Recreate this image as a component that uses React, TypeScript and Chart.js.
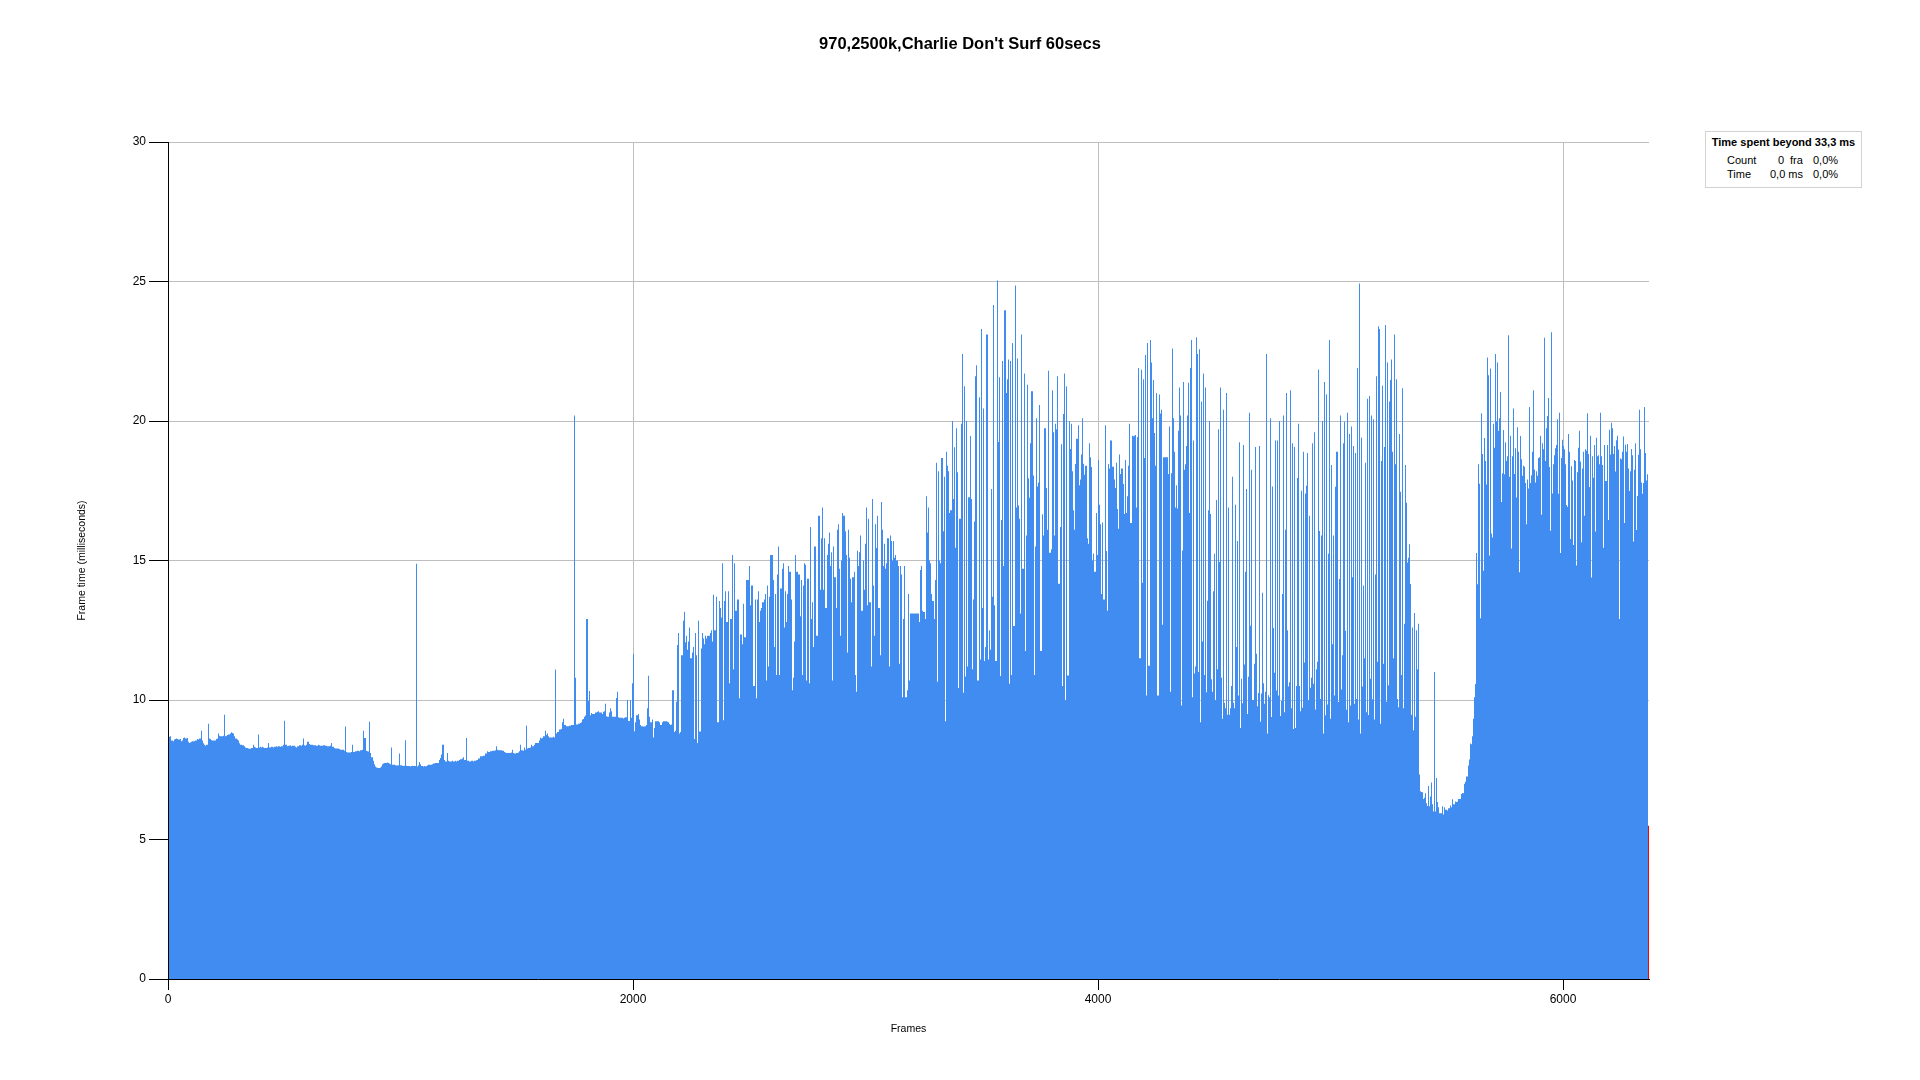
import React, { useEffect, useRef } from "react";
import { Chart, registerables, LinearScale } from "chart.js";

Chart.register(...registerables);

// Linear scale that places values on whole device pixels, so one-frame columns stay crisp
class SnapLinearScale extends LinearScale {
  getPixelForValue(value: any, index?: number) {
    const p = (LinearScale.prototype as any).getPixelForValue.call(this, value, index);
    return Math.round(p);
  }
}
(SnapLinearScale as any).id = "snapLinear";
(SnapLinearScale as any).defaults = (LinearScale as any).defaults;
Chart.registry.addScales(SnapLinearScale as any);

const FONT = "'Liberation Sans', Arial, Helvetica, sans-serif";

const CHART_TITLE = "970,2500k,Charlie Don't Surf 60secs";
const X_TITLE = "Frames";
const Y_TITLE = "Frame time (milliseconds)";
const X_TICKS = [0, 2000, 4000, 6000];
const Y_TICKS = [0, 5, 10, 15, 20, 25, 30];
const X_MAX = 6370;
const Y_MAX = 30;

const LEGEND_HEADER = "Time spent beyond 33,3 ms";
const LEGEND_ROWS = [
  ["Count", "0", "fra", "0,0%"],
  ["Time", "0,0 ms", "", "0,0%"],
];

// Frame time (ms) per frame, split into frame ranges
const SEG_A_FRAMES = [0, 1075];
const segA = [
  8.70, 8.68, 8.70, 8.55, 8.52, 8.58, 8.60, 8.62, 8.60, 8.58, 8.60, 8.52, 8.55, 8.64, 8.66, 8.62, 8.64, 8.50, 8.46, 8.48,
  8.50, 8.52, 8.52, 8.55, 8.55, 8.60, 8.58, 8.62, 8.90, 8.55, 8.45, 8.40, 8.36, 8.40, 9.15, 8.62, 8.60, 8.56, 8.55, 8.55,
  8.55, 8.60, 8.62, 8.80, 8.72, 8.70, 8.70, 8.72, 9.47, 8.70, 8.72, 8.75, 8.76, 8.80, 8.84, 8.82, 8.80, 8.70, 8.62, 8.58,
  8.55, 8.45, 8.40, 8.40, 8.38, 8.34, 8.30, 8.28, 8.28, 8.26, 8.25, 8.28, 8.28, 8.40, 8.32, 8.30, 8.28, 8.76, 8.30, 8.32,
  8.30, 8.32, 8.30, 8.28, 8.28, 8.30, 8.46, 8.30, 8.30, 8.32, 8.30, 8.32, 8.32, 8.34, 8.32, 8.34, 8.32, 8.34, 8.34, 8.40,
  9.26, 8.40, 8.34, 8.36, 8.36, 8.38, 8.34, 8.36, 8.36, 8.32, 8.30, 8.34, 8.34, 8.38, 8.36, 8.40, 8.62, 8.38, 8.36, 8.40,
  8.50, 8.42, 8.40, 8.40, 8.40, 8.38, 8.38, 8.36, 8.36, 8.40, 8.38, 8.36, 8.36, 8.38, 8.38, 8.36, 8.36, 8.34, 8.34, 8.36,
  8.46, 8.32, 8.32, 8.28, 8.26, 8.26, 8.26, 8.24, 8.22, 8.22, 8.22, 8.18, 9.05, 8.14, 8.12, 8.12, 8.12, 8.14, 8.40, 8.14,
  8.14, 8.16, 8.16, 8.18, 8.16, 8.20, 8.20, 8.22, 8.90, 8.64, 8.18, 8.16, 8.15, 9.22, 8.10, 7.95, 7.82, 7.70, 7.62, 7.58,
  7.57, 7.56, 7.58, 7.62, 7.70, 7.72, 7.74, 7.74, 7.76, 7.74, 7.72, 7.70, 8.30, 7.68, 7.68, 7.66, 7.65, 7.65, 7.66, 8.08,
  7.66, 7.64, 7.63, 7.64, 8.56, 7.64, 7.63, 7.63, 7.62, 7.63, 7.64, 7.63, 7.63, 14.88, 7.62, 7.66,
];

const SEG_B_FRAMES = [1080, 2150];
const segB = [
  7.78, 7.70, 7.63, 7.62, 7.63, 7.62, 7.63, 7.65, 7.68, 7.68, 7.68, 7.70, 7.72, 7.72, 7.74, 7.74, 7.74, 7.85, 7.92, 8.05,
  8.40, 7.85, 7.80, 7.80, 8.10, 7.82, 7.80, 7.80, 7.82, 7.80, 7.80, 7.82, 7.80, 7.82, 7.85, 7.88, 7.88, 7.90, 7.95, 7.85,
  8.64, 7.82, 7.82, 7.80, 7.80, 7.82, 7.80, 7.82, 7.82, 7.84, 7.85, 7.90, 7.98, 7.98, 7.98, 8.00, 8.00, 8.08, 8.16, 8.14,
  8.14, 8.16, 8.16, 8.18, 8.18, 8.20, 8.34, 8.22, 8.20, 8.20, 8.20, 8.18, 8.18, 8.14, 8.12, 8.10, 8.10, 8.10, 8.10, 8.12,
  8.22, 8.10, 8.08, 8.10, 8.10, 8.12, 8.16, 8.40, 8.20, 8.18, 8.30, 8.22, 9.08, 8.26, 8.28, 8.30, 8.40, 8.34, 8.34, 8.40,
  8.46, 8.46, 8.46, 8.55, 8.65, 8.62, 8.64, 8.70, 8.90, 8.75, 8.80, 8.70, 8.66, 8.66, 8.66, 8.68, 8.66, 11.09, 8.80, 8.85,
  8.94, 8.94, 8.96, 9.20, 9.33, 9.10, 9.06, 9.06, 9.06, 9.08, 9.08, 9.10, 9.10, 20.2, 10.8, 9.12, 9.12, 9.15, 9.18, 9.20,
  9.30, 9.32, 9.40, 9.44, 12.9, 9.96, 10.32, 9.45, 9.53, 9.50, 9.50, 9.55, 9.55, 9.58, 9.60, 9.55, 9.55, 9.50, 9.58, 9.60,
  9.87, 9.42, 9.40, 9.55, 9.70, 9.60, 9.40, 9.40, 9.40, 10.07, 10.30, 9.38, 9.36, 9.36, 9.36, 9.34, 9.36, 9.38, 9.38, 10.00,
  9.25, 10.00, 9.36, 10.60, 11.66, 8.88, 9.20, 9.45, 9.50, 9.30, 9.10, 9.06, 9.06, 9.05, 9.06, 9.10, 9.70, 10.87, 9.40, 9.20,
  9.30, 8.66, 9.00, 9.24, 9.24, 9.24, 9.20, 9.10, 9.10, 9.20, 9.24, 9.24, 9.24, 9.22, 9.20,
];

const SEG_C_FRAMES = [2155, 3191];
const segC = [
  9.15, 9.10, 9.12, 10.35, 8.85, 8.90, 9.94, 11.97, 12.4, 8.80, 8.85, 11.6, 12.84, 13.16, 12.07, 12.3, 11.8, 12.1, 12.6, 11.5,
  11.7, 11.9, 8.6, 12.4, 11.6, 8.46, 12.84, 8.87, 11.85, 12.4, 12.2, 12.0, 12.3, 12.2, 12.3, 12.3, 12.4, 12.5, 12.1, 13.77,
  12.5, 12.5, 13.7, 9.2, 13.55, 13.3, 12.96, 14.9, 9.27, 13.55, 13.9, 12.8, 13.9, 10.6, 12.9, 12.9, 15.2, 11.1, 14.9, 13.2,
  13.6, 13.6, 10.06, 12.35, 12.35, 12.0, 13.45, 12.25, 14.3, 14.3, 14.3, 14.8, 13.4, 14.1, 14.1, 10.5, 13.6, 10.06, 13.6, 13.9,
  12.8, 13.2, 13.3, 13.5, 13.6, 13.8, 10.7, 14.1, 11.2, 13.7, 15.2, 15.2, 14.3, 11.9, 13.8, 10.9, 14.5, 15.5, 10.9, 14.0,
  14.7, 14.9, 12.6, 13.9, 12.8, 13.8, 14.8, 14.6, 13.6, 10.35, 10.8, 12.1, 15.2, 14.6, 14.6, 14.5, 13.0, 14.3, 10.9, 14.1,
  14.9, 14.85, 10.7, 14.35, 10.6, 16.2, 12.9, 13.5, 11.9, 15.5, 15.5, 12.3, 16.6, 16.6, 13.95, 15.8, 16.9, 13.95, 15.8, 13.3,
  15.2, 15.6, 16.0, 14.8, 15.3, 10.7, 15.5, 14.4, 13.3, 16.1, 16.3, 14.7, 12.3, 15.0, 16.7, 16.6, 16.05, 15.2, 11.7, 16.1,
  15.1, 14.35, 13.5, 14.4, 14.6, 10.9, 10.3, 15.35, 14.8, 15.3, 15.9, 13.2, 15.0, 13.95, 15.6, 16.9, 13.4, 16.5, 13.5, 11.2,
  17.2, 14.1, 12.3, 16.3, 15.45, 16.6, 13.3, 11.6, 17.1, 16.1, 14.8, 15.6, 14.7, 14.9, 15.8, 11.2, 15.9, 15.7, 15.0, 15.7,
  15.1, 15.2, 15.0, 14.8, 11.3, 14.8, 14.5, 10.1, 12.9, 14.8, 10.1, 10.35, 13.8, 10.7, 13.1,
];

const SEG_D_FRAMES = [3230, 4280];
const segD = [
  12.8, 14.66, 14.8, 13.2, 13.15, 12.9, 17.3, 16.0, 16.9, 15.0, 14.9, 13.8, 13.55, 12.9, 14.3, 18.5, 10.65, 18.2, 15.0, 14.9,
  18.67, 16.05, 18.0, 9.24, 18.9, 18.4, 18.2, 16.7, 16.8, 20.0, 17.2, 19.06, 15.46, 19.74, 18.16, 10.43, 16.5, 19.9, 22.4, 10.26,
  21.25, 10.84, 20.0, 11.2, 17.27, 19.46, 17.2, 11.1, 13.6, 16.4, 21.6, 22.0, 10.7, 20.85, 11.45, 23.3, 13.3, 20.45, 11.4, 11.9,
  23.1, 11.45, 12.5, 11.8, 17.56, 13.7, 24.16, 13.4, 11.4, 25.04, 19.25, 21.57, 10.86, 16.45, 22.15, 14.8, 23.97, 21.0, 21.5, 22.2,
  10.58, 22.15, 10.9, 22.8, 12.65, 24.86, 16.9, 22.24, 16.97, 16.5, 13.1, 23.1, 14.7, 21.7, 11.76, 15.9, 21.3, 17.95, 17.25, 19.2,
  21.07, 18.05, 10.9, 15.5, 20.1, 17.65, 17.8, 20.57, 11.76, 16.66, 15.9, 19.74, 19.74, 17.6, 16.1, 21.8, 15.28, 15.4, 21.1, 19.6,
  15.9, 19.9, 19.7, 21.6, 14.17, 16.2, 19.17, 10.5, 20.25, 21.7, 10.0, 21.25, 10.88, 20.0, 19.0, 19.9, 18.2, 16.8, 16.1, 18.46,
  19.36, 19.85, 17.7, 17.9, 18.8, 20.1, 18.47, 18.07, 18.4, 15.8, 15.6, 19.2, 18.7, 18.35, 15.0, 15.25, 14.6, 16.7, 15.2, 18.6,
  17.0, 16.3, 13.8, 16.36, 13.6, 19.85, 15.34, 13.2, 18.46, 18.3, 19.3, 19.3, 18.36, 17.9, 17.6, 18.5, 16.85, 16.14, 18.8, 18.1,
  18.3, 17.74, 16.67, 18.6, 16.7, 17.3, 18.4, 19.9, 16.34, 19.47, 19.45, 19.47, 19.5, 16.9, 19.43, 21.9, 11.5, 21.84, 14.2, 21.5,
  18.67, 22.37, 10.16, 22.8, 11.23, 22.9, 22.1, 20.1, 21.47, 19.57, 18.4, 21.0, 10.16, 20.95, 20.27, 20.4, 12.7, 18.7,
];

const SEG_E_FRAMES = [4301, 5372];
const segE = [
  18.1, 19.8, 10.3, 18.13, 22.6, 20.1, 18.9, 16.9, 17.7, 16.86, 19.65, 21.2, 20.2, 9.8, 15.36, 21.4, 18.25, 18.45, 19.1, 20.2,
  21.37, 16.7, 21.9, 22.9, 10.1, 19.3, 10.95, 11.2, 23.0, 22.4, 11.0, 22.57, 9.2, 20.7, 12.1, 21.7, 10.9, 21.2, 10.28, 13.56,
  16.8, 20.0, 16.67, 10.74, 10.3, 13.9, 15.24, 10.0, 17.17, 11.1, 19.7, 14.95, 21.2, 10.8, 9.33, 20.4, 9.9, 9.7, 21.0, 9.47,
  16.9, 9.47, 9.7, 10.5, 18.0, 9.9, 9.7, 17.0, 11.9, 15.7, 10.16, 19.24, 9.0, 10.76, 9.88, 19.14, 11.27, 14.6, 17.56, 9.5,
  10.83, 20.3, 12.66, 18.25, 10.0, 10.0, 11.3, 19.07, 11.66, 9.78, 10.25, 19.1, 9.22, 10.23, 13.84, 10.6, 9.87, 10.3, 22.4, 8.8,
  10.17, 10.09, 20.1, 9.39, 17.65, 12.58, 10.98, 19.3, 10.34, 19.3, 10.16, 20.0, 9.43, 9.96, 13.8, 20.2, 9.56, 16.1, 21.0, 12.5,
  10.48, 10.64, 21.1, 9.7, 19.2, 8.96, 19.07, 9.0, 10.5, 17.96, 19.9, 10.5, 9.6, 17.5, 9.72, 18.9, 11.34, 17.4, 17.68, 18.85,
  10.0, 16.6, 10.44, 10.8, 19.2, 10.58, 19.6, 9.66, 11.1, 11.37, 21.85, 16.06, 10.04, 15.9, 20.0, 8.8, 21.4, 9.45, 20.96, 9.84,
  15.24, 22.9, 9.33, 18.42, 12.0, 15.9, 10.16, 17.64, 18.9, 18.9, 9.93, 14.34, 20.2, 10.38, 11.6, 19.2, 19.97, 12.48, 9.65, 20.3,
  9.2, 19.53, 9.8, 19.8, 14.4, 19.1, 9.87, 18.85, 10.04, 21.9, 9.3, 24.93, 8.8, 19.4, 10.48, 14.1, 11.5, 18.5, 9.56, 20.8,
  9.46, 20.9, 10.76, 20.2, 10.03, 20.06, 9.3, 14.5, 21.6, 11.37, 23.4, 23.3, 9.15, 18.57, 21.26, 11.3, 19.07, 23.44, 9.94, 22.1,
  10.53, 20.7, 21.47, 22.2, 18.9, 11.5, 23.1, 18.45, 21.5, 10.04, 9.74, 19.53, 17.46, 10.9, 21.17, 9.7, 12.73, 18.42, 17.07, 14.93,
  15.1, 15.58, 14.16, 9.47, 12.6, 8.92, 13.12, 9.4, 12.5, 11.1,
];

const SEG_F_FRAMES = [5376, 6361];
const segF = [
  12.73, 7.33, 6.73, 6.7, 6.69, 6.45, 6.5, 6.66, 6.3, 6.2, 6.92, 6.19, 6.54, 7.04, 6.26, 6.0, 11.0, 6.0, 7.2, 6.34,
  6.16, 5.94, 5.94, 5.94, 6.19, 5.9, 6.16, 6.07, 6.07, 6.04, 6.12, 6.12, 6.22, 6.16, 6.44, 6.26, 6.26, 6.36, 6.34, 6.36,
  6.45, 6.45, 6.45, 6.63, 6.67, 6.66, 7.0, 7.07, 7.26, 7.26, 7.65, 7.87, 8.44, 8.41, 8.7, 9.33, 10.1, 10.57, 15.27, 14.15,
  18.45, 17.75, 12.93, 20.28, 18.82, 14.63, 19.39, 18.57, 17.72, 22.28, 21.64, 15.18, 21.88, 15.97, 15.82, 19.9, 19.04, 22.4, 19.99, 22.1,
  19.65, 20.1, 21.04, 17.1, 18.13, 19.68, 18.09, 19.24, 18.57, 18.74, 23.07, 18.0, 19.47, 15.43, 18.74, 20.45, 18.1, 19.02, 17.26, 19.78,
  18.9, 14.58, 19.46, 18.63, 18.04, 18.4, 18.36, 17.78, 16.3, 17.9, 17.58, 20.5, 17.78, 18.06, 18.9, 21.1, 18.26, 17.8, 18.2, 18.04,
  18.67, 18.7, 19.47, 16.64, 19.2, 18.99, 22.98, 18.57, 19.74, 20.18, 20.82, 18.35, 16.07, 23.18, 17.4, 18.45, 18.77, 19.02, 19.14, 20.06,
  17.39, 20.3, 15.27, 18.67, 19.33, 19.1, 18.99, 18.45, 16.99, 16.93, 19.53, 18.9, 15.77, 18.38, 17.87, 15.56, 18.6, 18.57, 14.82, 18.16,
  19.04, 19.65, 18.55, 15.65, 18.3, 18.9, 16.6, 18.99, 18.93, 20.28, 18.82, 17.63, 19.47, 14.39, 18.74, 17.97, 19.14, 16.04, 19.4, 18.74,
  18.77, 18.45, 20.3, 18.74, 18.42, 15.46, 19.14, 17.85, 17.85, 19.14, 16.45, 19.69, 18.8, 19.94, 19.74, 18.82, 19.1, 18.19, 19.31, 19.47,
  18.98, 12.9, 18.66, 18.63, 18.9, 19.44, 16.34, 19.15, 18.9, 19.18, 18.3, 17.49, 18.2, 19.0, 18.77, 15.68, 18.25, 19.2, 16.09, 17.31,
  18.79, 20.4, 18.99, 17.8, 17.39, 17.78, 20.5, 18.85, 17.87, 18.09,
];

// The final frame, drawn in red
const LAST_FRAME = 6366;
const LAST_FRAME_VALUE = 5.49;

const BAR_COLOR = "#418CF0";
const LAST_COLOR = "#FF0000";
const GRID_COLOR = "#BEBEBE";

function buildPoints() {
  const segments: [number[], number[]][] = [
    [SEG_A_FRAMES, segA],
    [SEG_B_FRAMES, segB],
    [SEG_C_FRAMES, segC],
    [SEG_D_FRAMES, segD],
    [SEG_E_FRAMES, segE],
    [SEG_F_FRAMES, segF],
  ];
  const pts: { x: number; y: number }[] = [];
  for (const [range, vals] of segments) {
    const n = vals.length;
    const step = (range[1] - range[0]) / (n - 1);
    for (let i = 0; i < n; i++) pts.push({ x: range[0] + i * step, y: vals[i] });
  }
  pts.push({ x: LAST_FRAME, y: LAST_FRAME_VALUE });
  return pts;
}

export default function App() {
  const ref = useRef<HTMLCanvasElement | null>(null);

  useEffect(() => {
    const canvas = ref.current;
    if (!canvas) return;
    const points = buildPoints();
    const lastPts = [
      { x: LAST_FRAME, y: LAST_FRAME_VALUE },
      { x: X_MAX, y: LAST_FRAME_VALUE },
    ];

    const tickFont = { family: FONT, size: 12 };
    const titleFont = { family: FONT, size: 10.5 };

    const chart = new Chart(canvas, {
      type: "line",
      data: {
        datasets: [
          {
            data: lastPts,
            stepped: "before",
            fill: "origin",
            backgroundColor: LAST_COLOR,
            borderColor: "rgba(0,0,0,0)",
            borderWidth: 0,
            pointRadius: 0,
            pointHoverRadius: 0,
            order: 0,
          } as any,
          {
            data: points,
            stepped: "before",
            fill: "origin",
            backgroundColor: BAR_COLOR,
            borderColor: "rgba(0,0,0,0)",
            borderWidth: 0,
            pointRadius: 0,
            pointHoverRadius: 0,
            order: 1,
          } as any,
        ],
      },
      options: {
        responsive: false,
        animation: false,
        devicePixelRatio: 1,
        parsing: false,
        normalized: true,
        events: [],
        layout: { padding: { top: 142, right: 271, bottom: 0, left: 0 } },
        plugins: {
          legend: { display: false },
          title: { display: false },
          tooltip: { enabled: false },
        },
        scales: {
          x: {
            type: "snapLinear",
            min: 0,
            max: X_MAX,
            offset: false,
            afterBuildTicks: (s: any) => {
              s.ticks = X_TICKS.map((v) => ({ value: v }));
            },
            afterFit: (s: any) => {
              s.height = 101;
            },
            ticks: {
              color: "#000",
              font: tickFont,
              padding: 2,
              maxRotation: 0,
              autoSkip: false,
              callback: (v: any) => String(v),
            },
            grid: {
              color: GRID_COLOR,
              tickColor: "#000",
              tickLength: 11,
              lineWidth: 1,
              offset: false,
            },
            border: { display: true, color: "#000", width: 1, z: 1 },
            title: {
              display: true,
              text: X_TITLE,
              color: "#000",
              font: titleFont,
              padding: { top: 0, bottom: 45 },
            },
          },
          y: {
            type: "linear",
            min: 0,
            max: Y_MAX,
            afterBuildTicks: (s: any) => {
              s.ticks = Y_TICKS.map((v) => ({ value: v }));
            },
            afterFit: (s: any) => {
              s.width = 168;
            },
            ticks: {
              color: "#000",
              font: tickFont,
              padding: 3,
              callback: (v: any) => String(v),
            },
            grid: {
              color: GRID_COLOR,
              tickColor: "#000",
              tickLength: 19,
              lineWidth: 1,
            },
            border: { display: true, color: "#000", width: 1, z: 1 },
            title: {
              display: true,
              text: Y_TITLE,
              color: "#000",
              font: titleFont,
              padding: { top: 76, bottom: 0 },
            },
          },
        },
      } as any,
    });
    return () => chart.destroy();
  }, []);

  const legendText: React.CSSProperties = {
    position: "absolute",
    fontFamily: FONT,
    fontSize: 11,
    lineHeight: "14px",
    color: "#000",
    whiteSpace: "nowrap",
  };
  const colLeft = [21, 72, 84, 107];
  const rowLeft2 = [21, 64, 84, 107];

  return (
    <div
      style={{
        position: "absolute",
        left: 0,
        top: 0,
        width: 1920,
        height: 1080,
        background: "#fff",
        overflow: "hidden",
      }}
    >
      <canvas ref={ref} width={1920} height={1080} style={{ display: "block", width: 1920, height: 1080 }} />
      <div
        style={{
          position: "absolute",
          left: 0,
          top: 33,
          width: 1920,
          textAlign: "center",
          fontFamily: FONT,
          fontWeight: "bold",
          fontSize: 16.5,
          lineHeight: "20px",
          color: "#000",
        }}
      >
        {CHART_TITLE}
      </div>
      <div
        style={{
          position: "absolute",
          left: 1705,
          top: 131,
          width: 157,
          height: 57,
          boxSizing: "border-box",
          border: "1px solid #D3D3D3",
          background: "#fff",
        }}
      >
        <div
          style={{
            ...legendText,
            left: 0,
            width: "100%",
            top: 3,
            textAlign: "center",
            fontWeight: "bold",
          }}
        >
          {LEGEND_HEADER}
        </div>
        {LEGEND_ROWS.map((row, r) =>
          row.map((cell, c) =>
            cell ? (
              <span
                key={`${r}-${c}`}
                style={{ ...legendText, left: (r === 0 ? colLeft : rowLeft2)[c], top: 21 + r * 14 }}
              >
                {cell}
              </span>
            ) : null
          )
        )}
      </div>
    </div>
  );
}
